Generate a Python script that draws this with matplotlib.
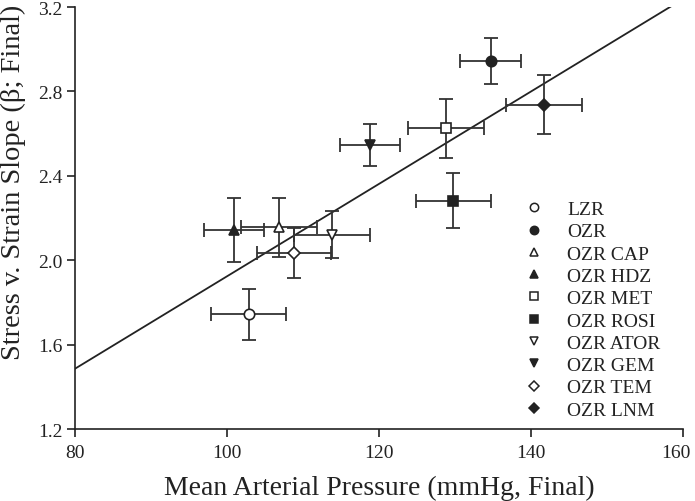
import matplotlib
matplotlib.use("Agg")
import matplotlib.pyplot as plt
import matplotlib.transforms as mtransforms
from matplotlib.lines import Line2D
import numpy as np

plt.rcParams["font.family"] = ["Liberation Serif", "DejaVu Serif"]

groups = ["LZR", "OZR", "OZR CAP", "OZR HDZ", "OZR MET",
          "OZR ROSI", "OZR ATOR", "OZR GEM", "OZR TEM", "OZR LNM"]
map_mean = [102.8, 134.7, 106.8, 100.9, 128.8, 129.8, 113.75, 118.8, 108.8, 141.7]
map_sem = [5.0, 4.0, 5.0, 4.0, 5.0, 5.0, 5.0, 4.0, 4.9, 5.0]
beta_mean = [1.744, 2.945, 2.156, 2.143, 2.625, 2.282, 2.121, 2.546, 2.034, 2.736]
beta_sem = [0.12, 0.11, 0.14, 0.15, 0.14, 0.13, 0.11, 0.10, 0.12, 0.14]
markers = ["o", "o", "^", "^", "s", "s", "v", "v", "D", "D"]
filled = [False, True, False, True, False, True, False, True, False, True]

INK = "#222222"

fig = plt.figure(figsize=(6.95, 5.02), dpi=100)
ax = fig.add_axes([0.1086, 0.1434, 0.8737, 0.8406])

# regression through group means
slope, icept = np.polyfit(map_mean, beta_mean, 1)
xs = np.array([80, 160])
ax.plot(xs, icept + slope * xs, color=INK, lw=1.3, zorder=2)

for i, g in enumerate(groups):
    ax.errorbar(map_mean[i], beta_mean[i], xerr=map_sem[i], yerr=beta_sem[i],
                fmt="none", ecolor="#333333", elinewidth=1.3, capsize=5,
                capthick=1.3, zorder=3)
    ms = 6.5 if markers[i] == "D" else 7.5
    ax.plot(map_mean[i], beta_mean[i], marker=markers[i], ms=ms, ls="none",
            mfc=INK if filled[i] else "white", mec=INK, mew=1.2, zorder=4)

ax.set_xlim(80, 160)
ax.set_ylim(1.2, 3.2)
ax.set_xticks([80, 100, 120, 140, 160])
ax.set_yticks([1.2, 1.6, 2.0, 2.4, 2.8, 3.2])
ax.set_yticklabels(["1.2", "1.6", "2.0", "2.4", "2.8", "3.2"])
for s in ["top", "right"]:
    ax.spines[s].set_visible(False)
for s in ["left", "bottom"]:
    ax.spines[s].set_color(INK)
    ax.spines[s].set_linewidth(1.2)
ax.tick_params(direction="out", length=6, width=1.2, color=INK,
               labelsize=14, labelcolor=INK)
ax.tick_params(axis="x", pad=5)

# last x label sits against the figure edge, nudge it left a little
last = ax.get_xticklabels()[-1]
last.set_transform(last.get_transform() +
                   mtransforms.ScaledTranslation(-5 / 72, 0, fig.dpi_scale_trans))

ax.set_xlabel("Mean Arterial Pressure (mmHg, Final)", fontsize=20,
              color=INK, labelpad=10)
ax.set_ylabel("Stress v. Strain Slope (β; Final)", fontsize=20.5, color=INK)
ax.yaxis.set_label_coords(-0.0815, 0.588)

handles = [Line2D([], [], marker=m, ls="none", ms=(5.2 if m == "D" else 6),
                  mfc=INK if f else "white", mec=INK, mew=1.1)
           for m, f in zip(markers, filled)]
ax.legend(handles, groups, loc="upper left", bbox_to_anchor=(0.727, 0.5645),
          frameon=False, fontsize=14, handlelength=0.8, handletextpad=1.3,
          labelspacing=0.24, borderpad=0, labelcolor=INK)

fig.savefig("out.png", dpi=100)
